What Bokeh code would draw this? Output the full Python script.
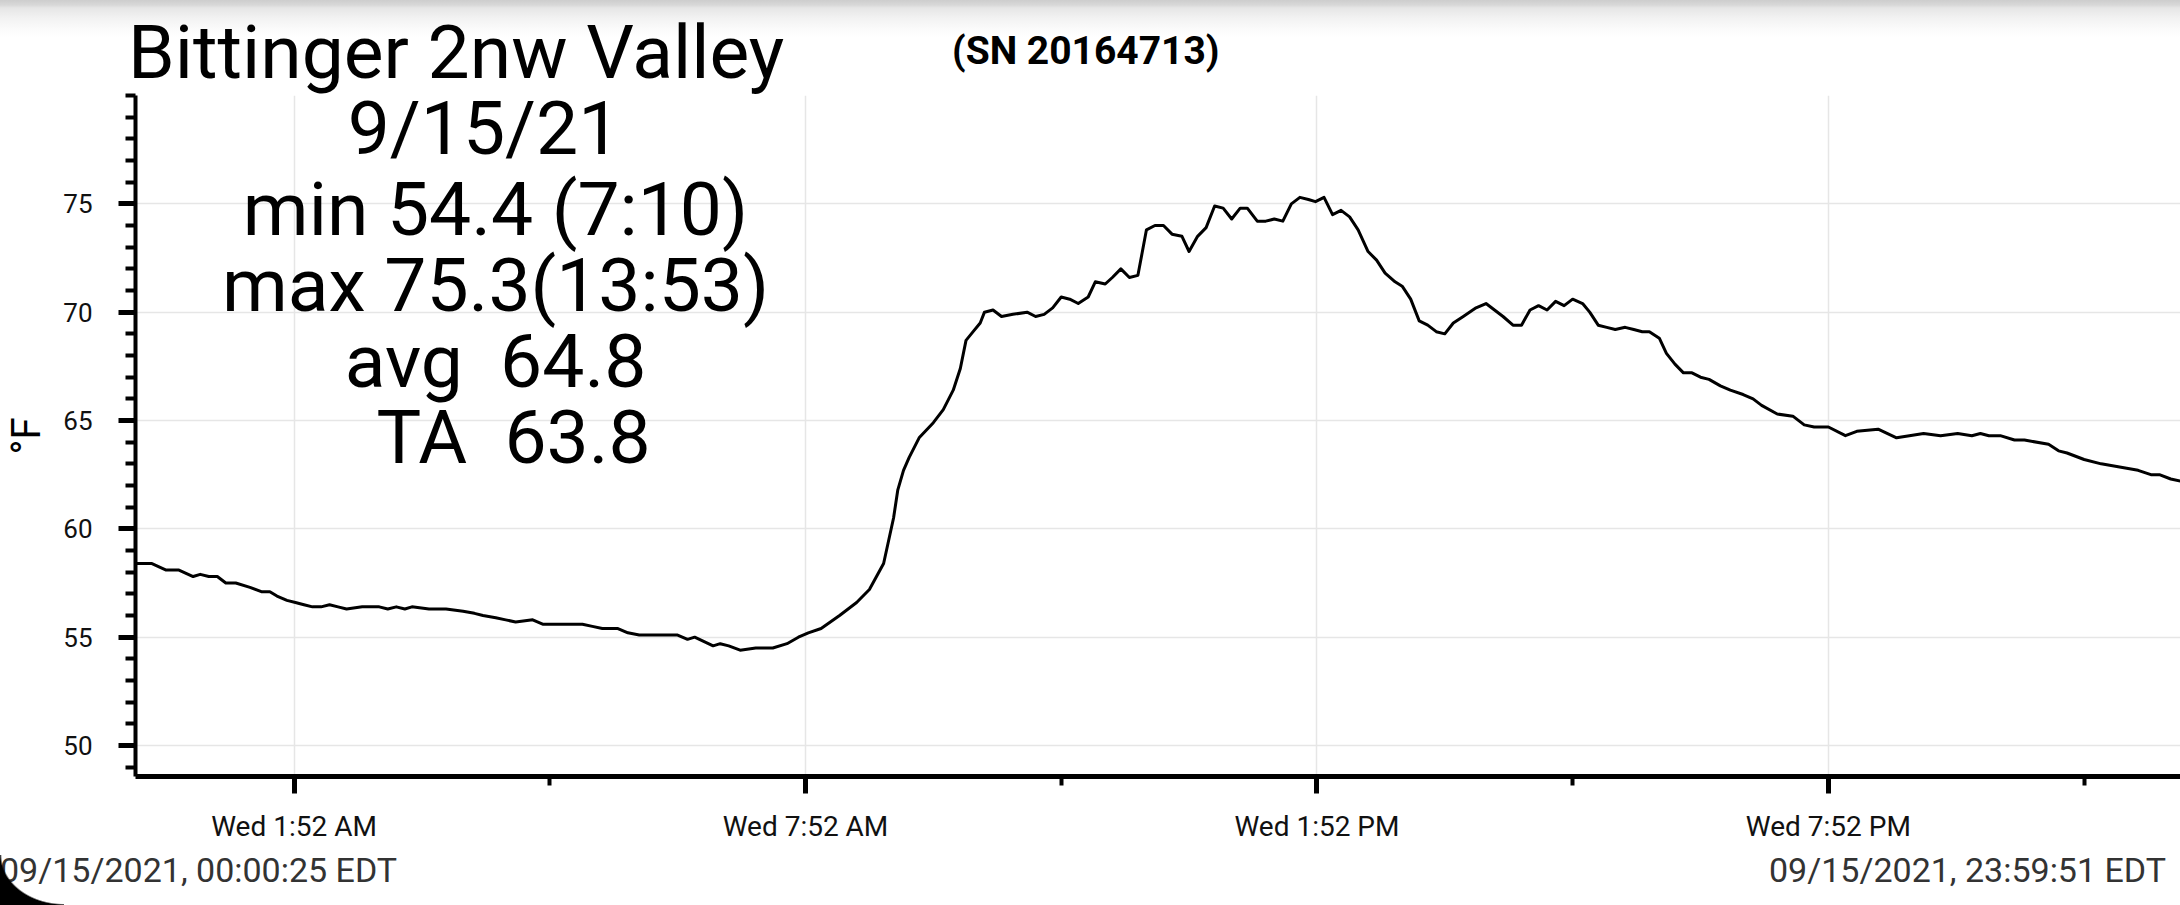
from bokeh.plotting import figure
from bokeh.layouts import column
from bokeh.models import Range1d, FixedTicker, Label, Div
from bokeh.embed import file_html
from bokeh.resources import INLINE

# ---------------- data (minutes after midnight, 9/15/21) ----------------
minutes = [0.42, 12, 22, 31, 41, 46, 52, 58, 64, 71, 81, 89, 95, 100, 107, 113, 119, 125,
           131, 137, 143, 149, 160, 172, 178, 184, 190, 195, 207, 219, 231, 239, 245, 254,
           261, 268, 280, 287, 301, 315, 322, 329, 340, 347, 355, 370, 382, 389, 394, 407,
           412, 418, 426, 437, 449, 459, 467, 474, 483, 496, 508, 517, 527, 530, 534, 537,
           541, 545, 552, 562, 569, 576, 581, 585, 590, 595, 598, 604, 610, 618, 628, 634,
           640, 646, 652, 658, 664, 671, 676, 683, 688, 694, 700, 706, 712, 718, 724, 730,
           737, 742, 748, 754, 760, 766, 772, 778, 783, 790, 796, 802, 808, 814, 820, 826,
           831, 837, 843, 849, 855, 861, 868, 874, 880, 887, 892, 898, 904, 910, 916, 922,
           928, 935, 944, 951, 963, 970, 976, 982, 988, 994, 1000, 1006, 1012, 1019, 1024,
           1030, 1036, 1042, 1049, 1055, 1061, 1066, 1073, 1078, 1084, 1090, 1096, 1102,
           1108, 1116, 1123, 1132, 1139, 1145, 1156, 1167, 1175, 1182, 1192, 1204, 1212,
           1227, 1240, 1249, 1259, 1271, 1283, 1293, 1299, 1305, 1313, 1323, 1330, 1347,
           1354, 1360, 1372, 1384, 1402, 1410, 1419, 1425, 1433, 1439.85]
temps_f = [58.4, 58.4, 58.1, 58.1, 57.8, 57.9, 57.8, 57.8, 57.5, 57.5, 57.3, 57.1, 57.1, 56.9,
           56.7, 56.6, 56.5, 56.4, 56.4, 56.5, 56.4, 56.3, 56.4, 56.4, 56.3, 56.4, 56.3, 56.4,
           56.3, 56.3, 56.2, 56.1, 56.0, 55.9, 55.8, 55.7, 55.8, 55.6, 55.6, 55.6, 55.5, 55.4,
           55.4, 55.2, 55.1, 55.1, 55.1, 54.9, 55.0, 54.6, 54.7, 54.6, 54.4, 54.5, 54.5, 54.7,
           55.0, 55.2, 55.4, 56.0, 56.6, 57.2, 58.4, 59.3, 60.5, 61.8, 62.7, 63.3, 64.2, 64.9,
           65.5, 66.4, 67.4, 68.7, 69.1, 69.5, 70.0, 70.1, 69.8, 69.9, 70.0, 69.8, 69.9, 70.2,
           70.7, 70.6, 70.4, 70.7, 71.4, 71.3, 71.6, 72.0, 71.6, 71.7, 73.8, 74.0, 74.0, 73.6,
           73.5, 72.8, 73.5, 73.9, 74.9, 74.8, 74.3, 74.8, 74.8, 74.2, 74.2, 74.3, 74.2, 75.0,
           75.3, 75.2, 75.1, 75.3, 74.5, 74.7, 74.4, 73.8, 72.8, 72.4, 71.8, 71.4, 71.2, 70.6,
           69.6, 69.4, 69.1, 69.0, 69.5, 69.8, 70.2, 70.4, 69.8, 69.4, 69.4, 70.1, 70.3, 70.1,
           70.5, 70.3, 70.6, 70.4, 70.0, 69.4, 69.3, 69.2, 69.3, 69.2, 69.1, 69.1, 68.8, 68.1,
           67.6, 67.2, 67.2, 67.0, 66.9, 66.6, 66.4, 66.2, 66.0, 65.7, 65.3, 65.2, 64.8, 64.7,
           64.7, 64.3, 64.5, 64.6, 64.2, 64.3, 64.4, 64.3, 64.4, 64.3, 64.4, 64.3, 64.3, 64.1,
           64.1, 63.9, 63.6, 63.5, 63.2, 63.0, 62.8, 62.7, 62.5, 62.5, 62.3, 62.2]

x_major_ticks = [112, 472, 832, 1192]
x_minor_ticks = [292, 652, 1012, 1372]
x_tick_labels = ["Wed 1:52 AM", "Wed 7:52 AM", "Wed 1:52 PM", "Wed 7:52 PM"]
y_major_ticks = [50, 55, 60, 65, 70, 75]
y_minor_ticks = list(range(49, 81))
y_grid_ticks = [50, 55, 60, 65, 70, 75, 80]

station = "Bittinger 2nw Valley"
serial = "(SN 20164713)"
date_line = "9/15/21"
stats_lines = ["min 54.4 (7:10)", "max 75.3(13:53)", "avg\u00a0 64.8", "TA\u00a0 63.8"]
start_stamp = "09/15/2021, 00:00:25 EDT"
end_stamp = "09/15/2021, 23:59:51 EDT"
unit_label = "°F"

assert len(minutes) == len(temps_f)

FONT = "Roboto"
W = 2180

# ---------------- header (title, serial, date line, top shadow) ----------------
title_html = (
    f'<div style="position:relative;width:{W}px;height:91px;overflow:visible;'
    f'font-family:{FONT};color:#000;">'
    f'<span style="position:absolute;left:128px;top:15px;font-size:75px;line-height:1;'
    f'white-space:pre;">{station}</span>'
    f'<span style="position:absolute;left:952px;top:32px;font-size:39px;font-weight:bold;'
    f'line-height:1;white-space:pre;">{serial}</span>'
    f'<span style="position:absolute;left:484px;top:91px;transform:translateX(-50%);'
    f'font-size:75px;line-height:1;white-space:pre;">{date_line}</span>'
    f'</div>'
)
header = Div(text=title_html, width=W, height=91, margin=0,
             styles={"z-index": "10", "overflow": "visible",
                     "background": "linear-gradient(to bottom, #cdcdcd 0px, #d8d8d8 5px, "
                                   "#e6e6e6 8px, #f2f2f2 18px, #fafafa 28px, #ffffff 38px)"})

# ---------------- chart ----------------
p = figure(width=W, height=759, output_backend="svg", toolbar_location=None,
           x_range=Range1d(0.42, 1439.85), y_range=Range1d(48.57, 80),
           min_border_left=135, min_border_right=0, min_border_top=4, min_border_bottom=74,
           background_fill_color="white", border_fill_color="white")
p.outline_line_color = None
p.margin = 0

p.line(minutes, temps_f, line_color="black", line_width=3, line_join="round")

xa = p.xaxis[0]
xa.ticker = FixedTicker(ticks=x_major_ticks, minor_ticks=x_minor_ticks)
xa.major_label_overrides = dict(zip(x_major_ticks, x_tick_labels))
xa.axis_line_width = 5
xa.axis_line_color = "black"
xa.major_tick_line_width = 5
xa.minor_tick_line_width = 4
xa.major_tick_out = 17
xa.major_tick_in = 0
xa.minor_tick_out = 9
xa.minor_tick_in = 0
xa.major_label_text_font = FONT
xa.major_label_text_font_size = "28px"
xa.major_label_text_color = "#111111"
xa.major_label_standoff = 16

ya = p.yaxis[0]
ya.ticker = FixedTicker(ticks=y_major_ticks, minor_ticks=y_minor_ticks)
ya.axis_line_width = 4
ya.axis_line_color = "black"
ya.major_tick_line_width = 5
ya.minor_tick_line_width = 4
ya.major_tick_out = 17
ya.major_tick_in = 0
ya.minor_tick_out = 10
ya.minor_tick_in = 0
ya.major_label_text_font = FONT
ya.major_label_text_font_size = "26px"
ya.major_label_text_color = "#111111"
ya.major_label_standoff = 26
ya.axis_label = unit_label
ya.axis_label_text_font = FONT
ya.axis_label_text_font_size = "40px"
ya.axis_label_text_font_style = "normal"
ya.axis_label_text_color = "#000000"
ya.axis_label_standoff = 10

p.xgrid.ticker = FixedTicker(ticks=x_major_ticks)
p.ygrid.ticker = FixedTicker(ticks=y_grid_ticks)
for g in (p.xgrid[0], p.ygrid[0]):
    g.grid_line_color = "#e6e6e6"
    g.grid_line_width = 1.5

# stats block (screen units relative to the plot frame)
stat_pos = [(360, 568), (360, 492), (360, 416), (378, 340)]
for line, (sx, sy) in zip(stats_lines, stat_pos):
    p.add_layout(Label(x=sx, y=sy, x_units="screen", y_units="screen", text=line,
                       text_font=FONT, text_font_size="75px", text_align="center",
                       text_baseline="alphabetic", text_color="black"))

# ---------------- footer (time stamps, screen corner) ----------------
footer_html = (
    f'<div style="position:relative;width:{W}px;height:55px;overflow:visible;'
    f'font-family:{FONT};color:#333333;">'
    f'<span style="position:absolute;left:0px;top:3px;font-size:34px;line-height:1;'
    f'white-space:pre;">{start_stamp}</span>'
    f'<span style="position:absolute;right:14px;top:3px;font-size:34px;line-height:1;'
    f'white-space:pre;">{end_stamp}</span>'
    f'<span style="position:absolute;left:0px;bottom:0px;width:64px;height:50px;'
    f'background:radial-gradient(64px 50px at 100% 0%, rgba(0,0,0,0) 97%, #000 100%);"></span>'
    f'</div>'
)
footer = Div(text=footer_html, width=W, height=55, margin=0)

layout = column(header, p, footer, spacing=0)

open("out.html", "w").write(file_html(layout, INLINE))
